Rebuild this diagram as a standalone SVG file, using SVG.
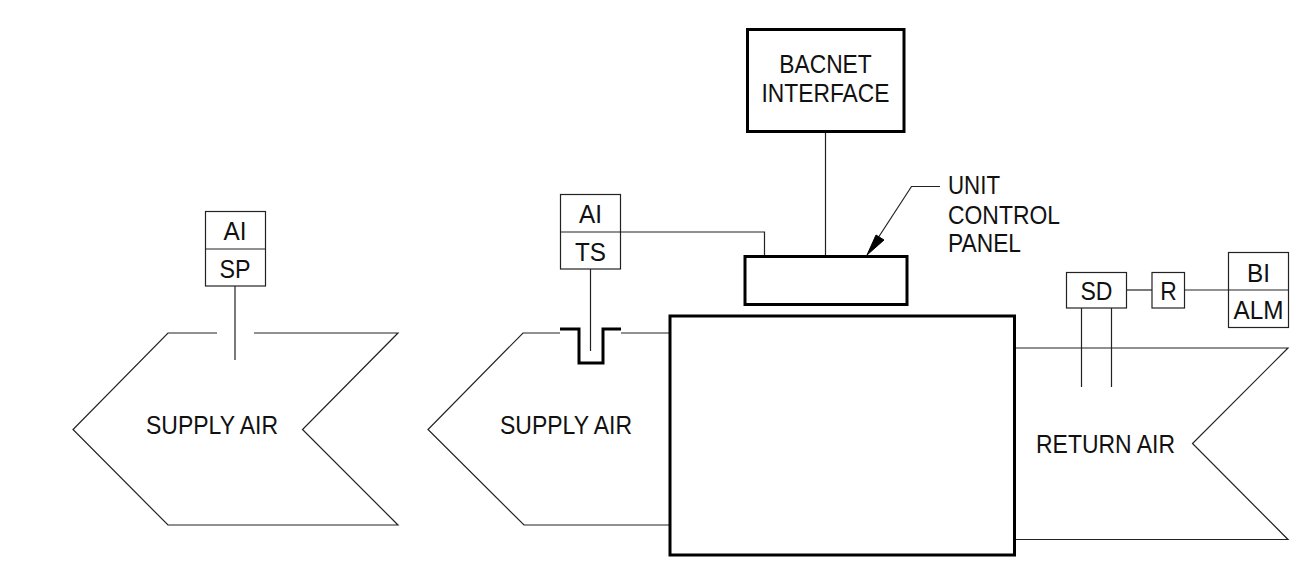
<svg xmlns="http://www.w3.org/2000/svg" width="1291" height="577" viewBox="0 0 1291 577">
<style>
text{font-family:"Liberation Sans",Arial,sans-serif;font-size:25px;fill:#111;text-anchor:middle}
.t{fill:none;stroke:#222;stroke-width:1.2}
.b{fill:none;stroke:#000;stroke-width:3;stroke-linejoin:miter}
.l{text-anchor:start}
</style>
<rect width="1291" height="577" fill="#fff"/>
<g id="connectors">
<path class="t" d="M235 286V360"/>
<path class="t" d="M590.500 269V351"/>
<path class="t" d="M620.500 232H764.500V256"/>
<path class="t" d="M825.500 131V256"/>
<path class="t" d="M1126.500 290H1152"/>
<path class="t" d="M1184.500 290H1228.500"/>
<path class="t" d="M1081.500 308V387M1111.500 308V387"/>
<path class="t" d="M940 186.500H911.500L878 238"/>
<path d="M867 255L876 235L884 240Z" fill="#000" stroke="#000"/>
</g>
<g id="supply-air-left">
<path class="t" d="M217 333H168L73 429.500L168 525H398L302.500 429.500L398 333H254"/>
<text x="212" y="434" textLength="132" lengthAdjust="spacingAndGlyphs">SUPPLY AIR</text>
</g>
<g id="supply-air-right">
<path class="t" d="M560 333H523L428 429.500L524 525H670M621 333H670"/>
<text x="566" y="434" textLength="132" lengthAdjust="spacingAndGlyphs">SUPPLY AIR</text>
</g>
<g id="return-air">
<path class="t" d="M1015 348H1288L1192.500 443.500L1288 539.500H1015"/>
<text x="1105.500" y="453" textLength="139" lengthAdjust="spacingAndGlyphs">RETURN AIR</text>
</g>
<g id="thermowell">
<path class="b" d="M560 329H579V363H603V329H621"/>
</g>
<g id="unit">
<rect class="b" x="670" y="316" width="344.500" height="239"/>
</g>
<g id="unit-control-panel">
<rect class="b" x="745" y="256.500" width="162" height="48"/>
<text class="l" x="948" y="194" textLength="52" lengthAdjust="spacingAndGlyphs">UNIT</text>
<text class="l" x="948" y="224" textLength="112" lengthAdjust="spacingAndGlyphs">CONTROL</text>
<text class="l" x="948" y="252" textLength="73" lengthAdjust="spacingAndGlyphs">PANEL</text>
</g>
<g id="bacnet-interface">
<rect class="b" x="747.500" y="29.500" width="156.500" height="102"/>
<text x="825.500" y="73" textLength="92.500" lengthAdjust="spacingAndGlyphs">BACNET</text>
<text x="825.500" y="102" textLength="128" lengthAdjust="spacingAndGlyphs">INTERFACE</text>
</g>
<g id="ai-sp">
<rect class="t" x="205.500" y="211.500" width="60" height="74.500"/>
<path class="t" d="M205.500 249H265.500"/>
<text x="235" y="240" textLength="23" lengthAdjust="spacingAndGlyphs">AI</text>
<text x="235" y="277.500" textLength="31" lengthAdjust="spacingAndGlyphs">SP</text>
</g>
<g id="ai-ts">
<rect class="t" x="560.500" y="194.500" width="60" height="74.500"/>
<path class="t" d="M560.500 232H620.500"/>
<text x="590.500" y="223" textLength="23" lengthAdjust="spacingAndGlyphs">AI</text>
<text x="590.500" y="261" textLength="31" lengthAdjust="spacingAndGlyphs">TS</text>
</g>
<g id="sd">
<rect class="t" x="1066.500" y="272.500" width="60" height="35.500"/>
<text x="1096.500" y="299.500" textLength="32" lengthAdjust="spacingAndGlyphs">SD</text>
</g>
<g id="r">
<rect class="t" x="1152" y="272.500" width="32.500" height="35.500"/>
<text x="1168.500" y="299.500" textLength="16.500" lengthAdjust="spacingAndGlyphs">R</text>
</g>
<g id="bi-alm">
<rect class="t" x="1228.500" y="252.500" width="60" height="75"/>
<path class="t" d="M1228.500 290H1288.500"/>
<text x="1258.500" y="281.500" textLength="23" lengthAdjust="spacingAndGlyphs">BI</text>
<text x="1258.500" y="318.500" textLength="50" lengthAdjust="spacingAndGlyphs">ALM</text>
</g>
</svg>
